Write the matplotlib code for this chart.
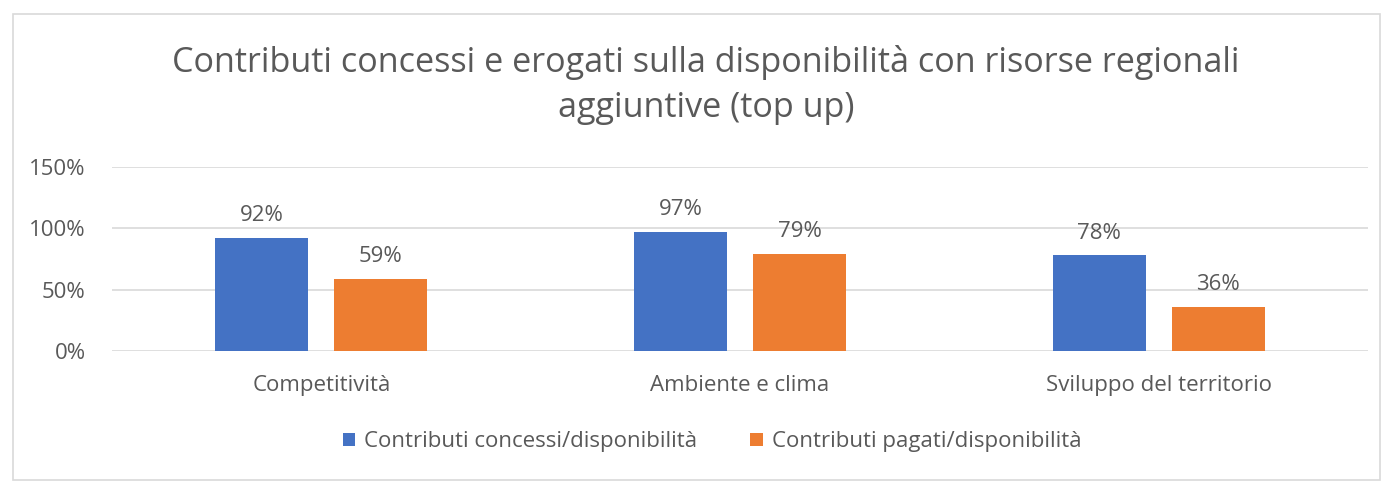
import matplotlib
matplotlib.use("Agg")
import matplotlib.pyplot as plt
from matplotlib.patches import Rectangle
import numpy as np

categories = ["Competitività", "Ambiente e clima", "Sviluppo del territorio"]
concessi = [92, 97, 78]
pagati = [59, 79, 36]
series_names = ["Contributi concessi/disponibilità", "Contributi pagati/disponibilità"]
yticks = [0, 50, 100, 150]
title = "Contributi concessi e erogati sulla disponibilità con risorse regionali\naggiuntive (top up)"

plt.rcParams['font.family'] = ['Open Sans', 'DejaVu Sans']
TXT = "#595959"
BLUE = "#4472C4"
ORANGE = "#ED7D31"
FS = 16

fig = plt.figure(figsize=(13.92, 4.92), dpi=100)
ax = fig.add_axes([112/1392, 1-351/492, (1368-112)/1392, (351-167)/492])

x = np.arange(len(categories))
w = 0.222
off = 0.142
b1 = ax.bar(x - off, concessi, w, color=BLUE, label=series_names[0], zorder=3)
b2 = ax.bar(x + off, pagati, w, color=ORANGE, label=series_names[1], zorder=3)
for bars, vals in ((b1, concessi), (b2, pagati)):
    for r, v in zip(bars, vals):
        ax.annotate(f"{v}%", (r.get_x() + r.get_width()/2, v), xytext=(0, 8.5),
                    textcoords="offset points", ha="center", va="bottom",
                    fontsize=FS, color=TXT)

ax.set_xlim(-0.5, 2.5)
ax.set_ylim(0, 150)
ax.set_yticks(yticks)
ax.set_yticklabels([f"{t}%" for t in yticks])
ax.set_xticks(x)
ax.set_xticklabels(categories)
ax.tick_params(axis='both', length=0, labelsize=FS, labelcolor=TXT)
ax.tick_params(axis='x', pad=17)
ax.tick_params(axis='y', pad=19)
ax.grid(axis='y', color="#D9D9D9", linewidth=1.2, zorder=0)
for s in ax.spines.values():
    s.set_visible(False)

fig.text(706/1392, 1-85/492, title, ha="center", va="center", fontsize=24.6,
         color=TXT, linespacing=1.42)

fig.legend(handles=[b1, b2], labels=series_names, loc="center",
           bbox_to_anchor=(712/1392, 1-442/492), ncol=2, frameon=False,
           fontsize=FS, labelcolor=TXT, handlelength=0.55, handleheight=0.55,
           handletextpad=0.4, columnspacing=2.4)

fig.patches.append(Rectangle((13/1392, 1-480/492), (1380-13)/1392, (480-14)/492,
                             transform=fig.transFigure, fill=False,
                             edgecolor="#D9D9D9", linewidth=1.2))

fig.savefig("out.png", dpi=100, facecolor="white")
